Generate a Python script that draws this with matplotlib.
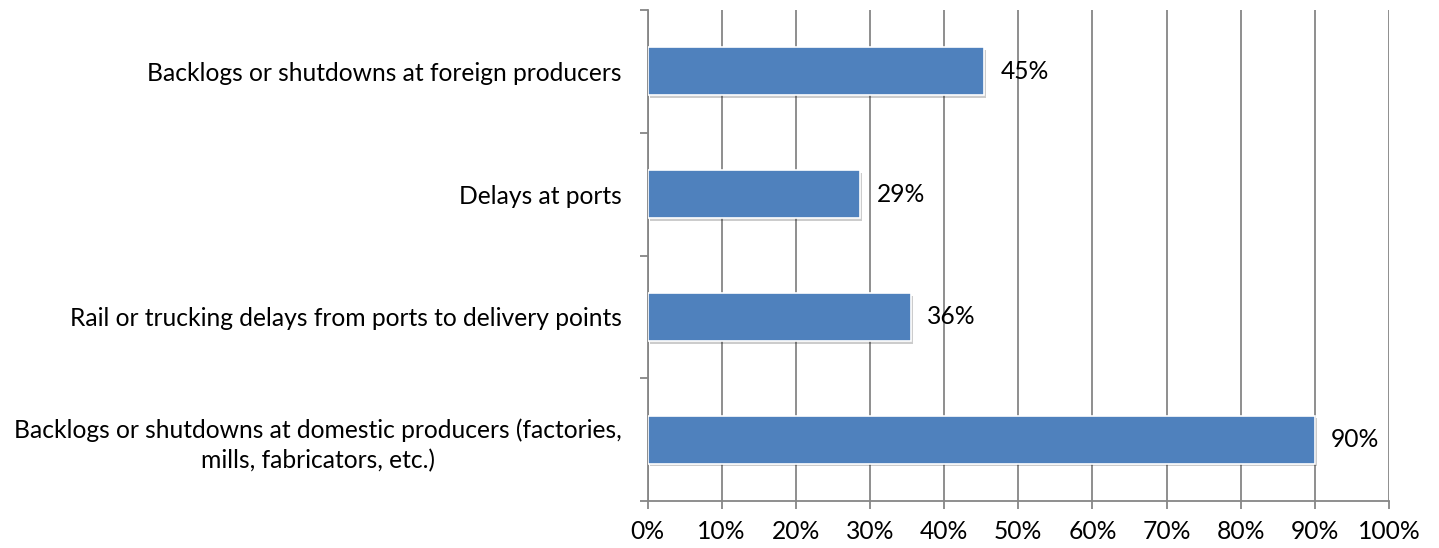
import matplotlib
matplotlib.use("Agg")
import matplotlib.pyplot as plt
from matplotlib import patheffects as pe
import numpy as np

categories = [
    "Backlogs or shutdowns at domestic producers (factories,\nmills, fabricators, etc.)",
    "Rail or trucking delays from ports to delivery points",
    "Delays at ports",
    "Backlogs or shutdowns at foreign producers",
]
values = [90.0, 35.5, 28.7, 45.4]
value_labels = ["90%", "36%", "29%", "45%"]
xticks = list(range(0, 101, 10))
xtick_labels = [f"{t}%" for t in xticks]

FONT = "Lato"
FS = 17.7
GRID = "#868686"
BAR = "#4F81BD"

fig = plt.figure(figsize=(14.39, 5.48), dpi=100)
ax = fig.add_axes([647.5 / 1439, 1 - 501 / 548, (1389 - 647.5) / 1439, (501 - 10) / 548])

y = np.arange(len(categories))
bars = ax.barh(y, values, height=0.39, color=BAR, edgecolor="white", linewidth=1.2, zorder=3)
for b in bars:
    b.set_path_effects([pe.SimplePatchShadow(offset=(1.5, -2), shadow_rgbFace="#000000", alpha=0.2), pe.Normal()])

for yi, v, lab in zip(y, values, value_labels):
    ax.text(v + 2.2, yi, lab, va="center", ha="left", fontsize=FS, family=FONT, color="black", zorder=4)

ax.set_xlim(0, 100)
ax.set_ylim(-0.5, len(categories) - 0.5)
ax.set_xticks(xticks)
ax.set_xticklabels(xtick_labels, family=FONT, fontsize=FS)
ax.set_yticks(y)
ax.set_yticklabels(categories, family=FONT, fontsize=FS, ha="right", multialignment="center")
for t in ax.get_yticklabels():
    t.set_linespacing(1.38)
ax.set_yticks(np.arange(-0.5, len(categories), 1.0), minor=True)
ax.tick_params(axis="y", which="major", length=0, pad=18.7)
ax.tick_params(axis="y", which="minor", length=5.8, width=1.3, color=GRID, direction="out")
ax.tick_params(axis="x", which="major", length=5.8, width=1.3, color=GRID, direction="out", pad=8)

ax.grid(axis="x", color=GRID, linewidth=1.3, zorder=0)
for s in ["top", "right"]:
    ax.spines[s].set_visible(False)
for s in ["left", "bottom"]:
    ax.spines[s].set_color(GRID)
    ax.spines[s].set_linewidth(1.3)
ax.set_axisbelow(True)

fig.savefig("out.png", dpi=100, facecolor="white")
